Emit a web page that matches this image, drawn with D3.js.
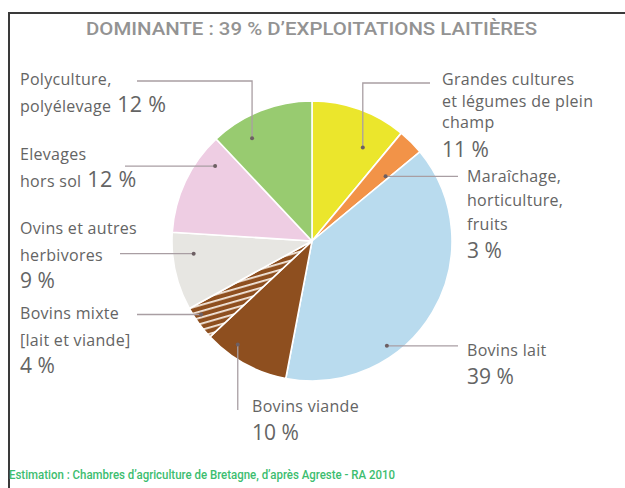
<!DOCTYPE html>
<html>
<head>
<meta charset="utf-8">
<script src="https://cdn.jsdelivr.net/npm/d3@7"></script>
<style>
  html, body { margin: 0; padding: 0; background: #fff; }
  svg { display: block; }
</style>
</head>
<body>
<svg id="chart" width="625" height="488"></svg>
<script>
// Répartition des exploitations par orientation (RA 2010)
const categories = [
  "Grandes cultures et légumes de plein champ",
  "Maraîchage, horticulture, fruits",
  "Bovins lait",
  "Bovins viande",
  "Bovins mixte (lait et viande)",
  "Ovins et autres herbivores",
  "Elevages hors sol",
  "Polyculture, polyélevage"
];
const shares = [11, 3, 39, 10, 4, 9, 12, 12];
const labelLines = [
  ["Grandes cultures", "et légumes de plein", "champ"],
  ["Maraîchage,", "horticulture,", "fruits"],
  ["Bovins lait"],
  ["Bovins viande"],
  ["Bovins mixte", "[lait et viande]"],
  ["Ovins et autres", "herbivores"],
  ["Elevages", "hors sol"],
  ["Polyculture,", "polyélevage"]
];
// true when the percentage sits on the last text line instead of its own line
const pctInline = [false, false, false, false, false, false, true, true];
const title = "DOMINANTE : 39 % D’EXPLOITATIONS LAITIÈRES";
const source = "Estimation : Chambres d’agriculture de Bretagne, d’après Agreste - RA 2010";

const colors = ["#ebe62c", "#f29348", "#b9dbee", "#8e4f1f", "hatch", "#e7e6e2", "#eecde3", "#98cb70"];

// label placement: anchor x, first baseline, line step, pct gap; leader routing
const layout = [
  { x: 442, y: 85, step: 21.5, pctGap: 29, t: 0.72, rf: 0.76, route: "up", elbowY: 83, endX: 430 },
  { x: 467, y: 182, step: 24, pctGap: 28, t: 0.84, rf: 0.70, route: "right", endX: 458 },
  { x: 467, y: 356, step: 24, pctGap: 27.5, t: 0.67, rf: 0.92, route: "right", endX: 458 },
  { x: 252, y: 412, step: 24, pctGap: 27.5, t: 0.69, rf: 0.91, route: "down", endY: 410 },
  { x: 20, y: 319, step: 26.5, pctGap: 27.5, t: 0.67, rf: 0.95, route: "left", endX: 137 },
  { x: 20, y: 234, step: 26.5, pctGap: 27.5, t: 0.70, rf: 0.85, route: "left", endX: 120 },
  { x: 20, y: 160, step: 27, pctGap: 0, t: 0.79, rf: 0.875, route: "left", endX: 125 },
  { x: 20, y: 85, step: 27, pctGap: 0, t: 0.30, rf: 0.85, route: "up", elbowY: 81, endX: 137 }
];

const svg = d3.select("#chart");
const cx = 312, cy = 241, R = 140;
const textColor = "#646464";
const font = "'Open Sans', Lato, sans-serif";

// frame (top and left rules)
svg.append("line").attr("x1", 8).attr("y1", 13).attr("x2", 625).attr("y2", 13)
  .attr("stroke", "#3a3a3a").attr("stroke-width", 2);
svg.append("line").attr("x1", 9).attr("y1", 12).attr("x2", 9).attr("y2", 488)
  .attr("stroke", "#3a3a3a").attr("stroke-width", 2);

// title
svg.append("text")
  .attr("x", 86).attr("y", 35)
  .attr("textLength", 451).attr("lengthAdjust", "spacingAndGlyphs")
  .attr("font-family", "Roboto, sans-serif")
  .attr("font-weight", 500)
  .attr("font-size", 19)
  .attr("fill", "#939393")
  .text(title);

// hatch pattern for the mixed cattle slice
const defs = svg.append("defs");
const pat = defs.append("pattern")
  .attr("id", "hatch").attr("patternUnits", "userSpaceOnUse")
  .attr("width", 6).attr("height", 6)
  .attr("patternTransform", "rotate(-16)");
pat.append("rect").attr("width", 6).attr("height", 6).attr("fill", "#8e4f1f");
pat.append("rect").attr("y", 0).attr("width", 6).attr("height", 1.8).attr("fill", "#f4e9df");

const pie = d3.pie().sort(null).value(d => d);
const arcs = pie(shares);
const arc = d3.arc().innerRadius(0).outerRadius(R);

const g = svg.append("g").attr("transform", `translate(${cx},${cy})`);
g.selectAll("path.slice")
  .data(arcs)
  .join("path")
  .attr("class", "slice")
  .attr("d", arc)
  .attr("fill", (d, i) => colors[i] === "hatch" ? "url(#hatch)" : colors[i])
  .attr("stroke", "#fff")
  .attr("stroke-width", 1.6)
  .attr("stroke-linejoin", "round");

// leaders and labels
arcs.forEach((a, i) => {
  const L = layout[i];
  const ang = a.startAngle + (a.endAngle - a.startAngle) * L.t;
  const r = R * L.rf;
  const px = cx + Math.sin(ang) * r;
  const py = cy - Math.cos(ang) * r;

  let pts;
  if (L.route === "up") pts = [[px, py], [px, L.elbowY], [L.endX, L.elbowY]];
  else if (L.route === "down") pts = [[px, py], [px, L.endY]];
  else pts = [[px, py], [L.endX, py]];

  svg.append("path")
    .attr("d", d3.line()(pts))
    .attr("fill", "none")
    .attr("stroke", "#a99ea3")
    .attr("stroke-width", 1.3);
  svg.append("circle").attr("cx", px).attr("cy", py).attr("r", 2).attr("fill", "#6d5f63");

  const t = svg.append("g")
    .attr("font-family", font)
    .attr("fill", textColor);
  const lines = labelLines[i];
  lines.forEach((ln, k) => {
    const tx = t.append("text")
      .attr("x", L.x).attr("y", L.y + k * L.step)
      .attr("font-size", 16)
      .attr("letter-spacing", 0.3);
    tx.append("tspan").text(ln);
    if (pctInline[i] && k === lines.length - 1) {
      tx.append("tspan").attr("font-size", 21.5).text(" " + shares[i] + " %");
    }
  });
  if (!pctInline[i]) {
    t.append("text")
      .attr("x", L.x)
      .attr("y", L.y + (lines.length - 1) * L.step + L.pctGap)
      .attr("font-size", 21)
      .text(shares[i] + " %");
  }
});

// source line
svg.append("text")
  .attr("x", 9).attr("y", 479)
  .attr("textLength", 386).attr("lengthAdjust", "spacingAndGlyphs")
  .attr("font-family", "Roboto, sans-serif")
  .attr("font-weight", 500)
  .attr("font-size", 12)
  .attr("fill", "#3cbd6f")
  .text(source);
</script>
</body>
</html>
